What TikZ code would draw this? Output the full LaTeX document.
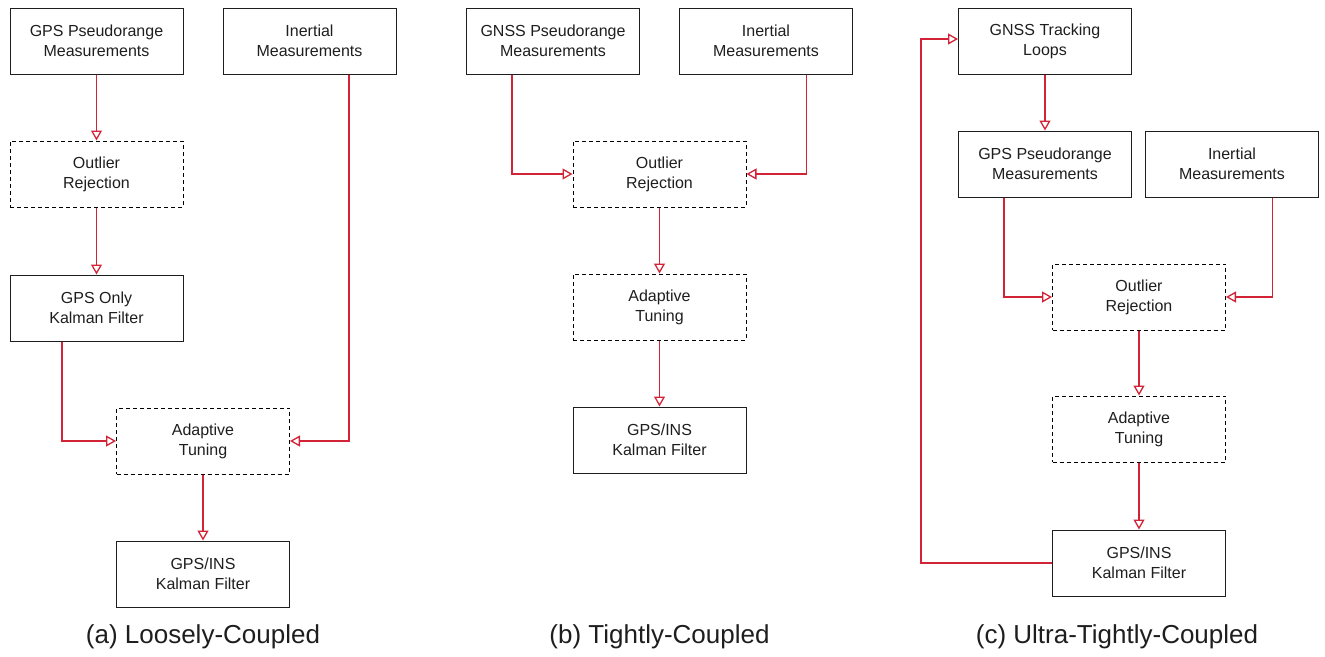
\documentclass[tikz,border=0pt]{standalone}
\usepackage{fontspec}
\setmainfont{Liberation Sans}
\usepackage{tikz}
\usetikzlibrary{arrows.meta, calc}
\definecolor{linkred}{RGB}{211,35,55}
\definecolor{boxgray}{RGB}{30,30,30}

\begin{document}
\begin{tikzpicture}[x=1pt, y=-1pt,
	box/.style={draw=boxgray, line width=1pt, minimum width=173pt, minimum height=66pt, inner sep=0pt, align=center, text=boxgray, font=\fontsize{16}{20}\selectfont},
	dbox/.style={box, draw=black, dashed, dash pattern=on 4pt off 3pt},
	link/.style={draw=linkred, line width=1.3pt, -{Triangle[open, length=10pt, width=11pt]}},
	caption/.style={text=boxgray, font=\fontsize{26}{30}\selectfont}]
	\useasboundingbox (0,0) rectangle (1325,656);
	% (a) loosely coupled
	\node [box] (gpsA) at (96.5,41) {GPS Pseudorange\\Measurements};
	\node [box] (inerA) at (309.5,41) {Inertial\\Measurements};
	\node [dbox] (outA) at (96.5,174) {Outlier\\Rejection};
	\node [box] (kfA) at (96.5,308) {GPS Only\\Kalman Filter};
	\node [dbox] (adaA) at (203,441) {Adaptive\\Tuning};
	\node [box] (insA) at (203,574) {GPS/INS\\Kalman Filter};
	\draw [link] (gpsA) -- (outA);
	\draw [link] (outA) -- (kfA);
	\draw [link] ($(kfA.south)+(-34.5,0)$) |- (adaA.west);
	\draw [link] ($(inerA.south)+(39.5,0)$) |- (adaA.east);
	\draw [link] (adaA) -- (insA);
	\path (203,637) node [caption] (capA) {(a) Loosely-Coupled};
	% (b) tightly coupled
	\node [box] (gnssB) at (553,41) {GNSS Pseudorange\\Measurements};
	\node [box] (inerB) at (766,41) {Inertial\\Measurements};
	\node [dbox] (outB) at (659.5,174) {Outlier\\Rejection};
	\node [dbox] (adaB) at (659.5,307) {Adaptive\\Tuning};
	\node [box] (insB) at (659.5,440) {GPS/INS\\Kalman Filter};
	\draw [link] ($(gnssB.south)+(-41,0)$) |- (outB.west);
	\draw [link] ($(inerB.south)+(40.5,0)$) |- (outB.east);
	\draw [link] (outB) -- (adaB);
	\draw [link] (adaB) -- (insB);
	\path (659.5,637) node [caption] (capB) {(b) Tightly-Coupled};
	% (c) ultra-tightly coupled
	\node [box] (trackC) at (1045,41) {GNSS Tracking\\Loops};
	\node [box] (gpsC) at (1045,164) {GPS Pseudorange\\Measurements};
	\node [box] (inerC) at (1232,164) {Inertial\\Measurements};
	\node [dbox] (outC) at (1139,297) {Outlier\\Rejection};
	\node [dbox] (adaC) at (1139,429) {Adaptive\\Tuning};
	\node [box] (insC) at (1139,563) {GPS/INS\\Kalman Filter};
	\coordinate (backC) at (921,563);
	\draw [link] (trackC) -- (gpsC);
	\draw [link] ($(gpsC.south)+(-41,0)$) |- (outC.west);
	\draw [link] ($(inerC.south)+(40.5,0)$) |- (outC.east);
	\draw [link] (outC) -- (adaC);
	\draw [link] (adaC) -- (insC);
	\draw [link] (insC.west) -- (backC) |- ($(trackC.west)+(0,-2)$);
	\path (1117,637) node [caption] (capC) {(c) Ultra-Tightly-Coupled};
\end{tikzpicture}
\end{document}
